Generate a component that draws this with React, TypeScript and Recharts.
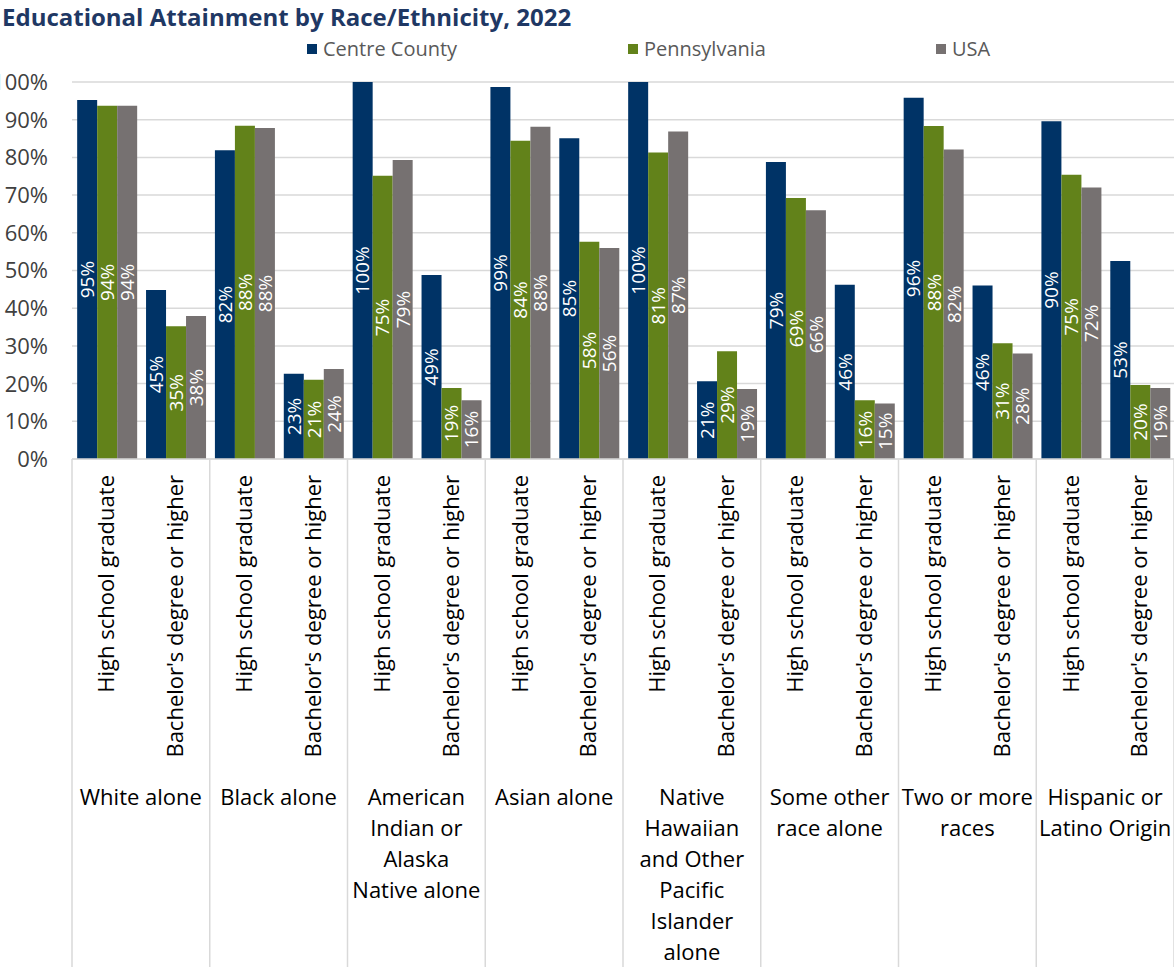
import React from "react";
import {
  BarChart,
  Bar,
  XAxis,
  YAxis,
  CartesianGrid,
  Legend,
  LabelList,
} from "recharts";

// ---- data ----
const groupLabels: string[][] = [
  ["White alone"],
  ["Black alone"],
  ["American", "Indian or", "Alaska", "Native alone"],
  ["Asian alone"],
  ["Native", "Hawaiian", "and Other", "Pacific", "Islander", "alone"],
  ["Some other", "race alone"],
  ["Two or more", "races"],
  ["Hispanic or", "Latino Origin"],
];
const subLabels: string[] = ["High school graduate", "Bachelor's degree or higher"];

const centreCounty: number[] = [95.2, 44.8, 81.9, 22.6, 100, 48.8, 98.7, 85.1, 100, 20.6, 78.8, 46.2, 95.8, 46.0, 89.6, 52.5];
const pennsylvania: number[] = [93.7, 35.2, 88.4, 21.0, 75.1, 18.8, 84.4, 57.6, 81.3, 28.6, 69.2, 15.6, 88.3, 30.7, 75.4, 19.6];
const usa: number[] = [93.7, 37.9, 87.8, 23.9, 79.3, 15.6, 88.1, 56.0, 86.9, 18.6, 66.0, 14.7, 82.1, 28.0, 72.0, 18.8];

const yTicks: number[] = [0, 10, 20, 30, 40, 50, 60, 70, 80, 90, 100];

const seriesNames = ["Centre County", "Pennsylvania", "USA"];
const seriesColors = ["#003366", "#62821A", "#767171"];

// ---- layout ----
const W = 1174;
const H = 967;
const Y_AXIS_W = 72;
const PLOT_W = W - Y_AXIS_W;
const X_AXIS_H = 508;
const FONT = "'Open Sans', 'Noto Sans', sans-serif";

const rows = groupLabels.flatMap((g, gi) =>
  subLabels.map((s, si) => {
    const i = gi * subLabels.length + si;
    return {
      key: `${gi}-${si}`,
      sub: s,
      group: g,
      cc: centreCounty[i],
      pa: pennsylvania[i],
      us: usa[i],
    };
  })
);

const CatTick = (props: any) => {
  const { x, y, index } = props;
  const row = rows[index];
  if (!row) return null;
  const band = PLOT_W / rows.length;
  const lines: React.ReactNode[] = [];
  if (index === 0) {
    lines.push(<line key="l0" x1={x - band / 2} x2={x - band / 2} y1={y} y2={y + X_AXIS_H} stroke="#D9D9D9" strokeWidth={1.5} />);
  }
  const last = index % subLabels.length === subLabels.length - 1;
  if (last) {
    lines.push(<line key="l1" x1={x + band / 2} x2={x + band / 2} y1={y} y2={y + X_AXIS_H} stroke="#D9D9D9" strokeWidth={1.5} />);
  }
  const ty = y + 16;
  const gx = x - (band * (subLabels.length - 1)) / 2;
  return (
    <g>
      {lines}
      <text
        x={x}
        y={ty}
        dy="0.36em"
        textAnchor="end"
        transform={`rotate(-90, ${x}, ${ty})`}
        fill="#000"
        fontSize={22}
        fontFamily={FONT}
      >
        {row.sub}
      </text>
      {last && (
        <text x={gx} y={y + 346} textAnchor="middle" fill="#000" fontSize={22} fontFamily={FONT}>
          {row.group.map((ln, k) => (
            <tspan key={k} x={gx} dy={k === 0 ? 0 : 31}>
              {ln}
            </tspan>
          ))}
        </text>
      )}
    </g>
  );
};

const YTick = (props: any) => {
  const { x, y, payload } = props;
  return (
    <text x={x} y={y} dy="0.36em" textAnchor="end" fill="#404040" fontSize={22} fontFamily={FONT}>
      {`${payload.value}%`}
    </text>
  );
};

const ValueLabel = (props: any) => {
  const { x, y, width, height, value } = props;
  const cx = x + width / 2;
  const cy = y + height / 2;
  return (
    <text
      x={cx}
      y={cy}
      dy="0.36em"
      textAnchor="middle"
      transform={`rotate(-90, ${cx}, ${cy})`}
      fill="#FFFFFF"
      fontSize={19}
      fontFamily={FONT}
    >
      {`${Math.round(value)}%`}
    </text>
  );
};

const legendLefts = [307, 628, 936];

const LegendContent = (props: any) => {
  const { payload } = props;
  return (
    <div style={{ position: "relative", height: 30, width: W }}>
      {(payload || []).map((p: any, i: number) => (
        <div
          key={i}
          style={{
            position: "absolute",
            left: legendLefts[i],
            top: 0,
            display: "flex",
            alignItems: "center",
            fontFamily: FONT,
            fontSize: 20,
            color: "#595959",
            whiteSpace: "nowrap",
          }}
        >
          <span style={{ display: "inline-block", width: 10, height: 10, background: p.color, marginRight: 6 }} />
          <span>{p.value}</span>
        </div>
      ))}
    </div>
  );
};

export default function App() {
  return (
    <div style={{ position: "absolute", left: 0, top: 0, width: W, height: H, background: "#fff", overflow: "hidden" }}>
      <div
        style={{
          position: "absolute",
          left: 2,
          top: 3,
          lineHeight: "28px",
          fontFamily: FONT,
          fontWeight: 700,
          fontSize: 24,
          color: "#1F3864",
          whiteSpace: "nowrap",
          zIndex: 2,
        }}
      >
        Educational Attainment by Race/Ethnicity, 2022
      </div>
      <BarChart
        width={W}
        height={H}
        data={rows}
        margin={{ top: 82, right: 0, left: 0, bottom: 0 }}
        barCategoryGap="7.5%"
        barGap={0}
      >
        <CartesianGrid horizontal vertical={false} stroke="#D9D9D9" strokeWidth={1.5} />
        <YAxis
          width={Y_AXIS_W}
          domain={[0, 100]}
          ticks={yTicks}
          interval={0}
          axisLine={false}
          tickLine={false}
          tickSize={0}
          tickMargin={24}
          tick={<YTick />}
        />
        <XAxis
          dataKey="key"
          height={X_AXIS_H}
          interval={0}
          tickLine={false}
          tickSize={0}
          tickMargin={0}
          axisLine={{ stroke: "#D9D9D9", strokeWidth: 1.5 }}
          tick={<CatTick />}
        />
        <Legend
          verticalAlign="middle"
          align="center"
          layout="horizontal"
          wrapperStyle={{ position: "absolute", top: 35, left: 0, width: W }}
          content={<LegendContent />}
        />
        <Bar dataKey="cc" name={seriesNames[0]} fill={seriesColors[0]} isAnimationActive={false}>
          <LabelList dataKey="cc" content={<ValueLabel />} />
        </Bar>
        <Bar dataKey="pa" name={seriesNames[1]} fill={seriesColors[1]} isAnimationActive={false}>
          <LabelList dataKey="pa" content={<ValueLabel />} />
        </Bar>
        <Bar dataKey="us" name={seriesNames[2]} fill={seriesColors[2]} isAnimationActive={false}>
          <LabelList dataKey="us" content={<ValueLabel />} />
        </Bar>
      </BarChart>
    </div>
  );
}
